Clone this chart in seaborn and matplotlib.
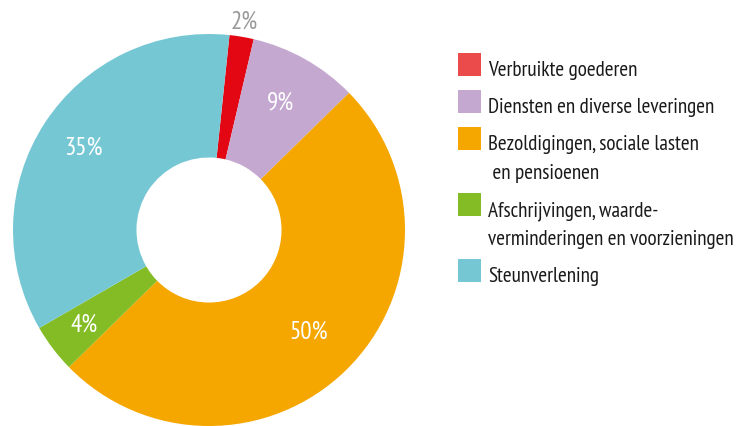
import matplotlib
matplotlib.use("Agg")
import matplotlib.pyplot as plt
import seaborn as sns
import numpy as np
from matplotlib.patches import Rectangle

# data
categories = [
    "Verbruikte goederen",
    "Diensten en diverse leveringen",
    "Bezoldigingen, sociale lasten\n en pensioenen",
    "Afschrijvingen, waarde-\nverminderingen en voorzieningen",
    "Steunverlening",
]
shares = [2, 9, 50, 4, 35]
pct_labels = ["2%", "9%", "50%", "4%", "35%"]
slice_colors = ["#E30613", "#C4A8D0", "#F5A700", "#84BC25", "#76C7D4"]
legend_colors = ["#EB4B4B", "#C4A8D0", "#F5A700", "#84BC25", "#76C7D4"]

# label placement (distance from centre, as fraction of radius)
label_r = [1.075, 0.745, 0.73, 0.80, 0.765]
label_colors = ["#9A9A9A", "white", "white", "white", "white"]

sns.set_theme(style="white")
plt.rcParams['font.family'] = ['PT Sans Narrow', 'DejaVu Sans']

W, H = 738, 426
fig = plt.figure(figsize=(W / 100, H / 100), dpi=100)
ax = fig.add_axes([13 / W, 0, 392 / W, 392 / H])

wedges, _ = ax.pie(
    shares,
    colors=slice_colors,
    startangle=84,
    counterclock=False,
    radius=1.0,
    wedgeprops=dict(width=0.63, linewidth=0),
)
ax.set_xlim(-1, 1)
ax.set_ylim(-1, 1)
ax.set_aspect("equal")
ax.axis("off")

# percentage labels
for w, lab, r, col in zip(wedges, pct_labels, label_r, label_colors):
    ang = np.deg2rad((w.theta1 + w.theta2) / 2)
    ax.text(r * np.cos(ang), r * np.sin(ang), lab, color=col,
            fontsize=18, ha="center", va="center", clip_on=False)

# legend drawn by hand so the swatch sits on the first line
line_h, gap = 29, 8
baseline = 76
for lab, col in zip(categories, legend_colors):
    fig.patches.append(Rectangle((458 / W, 1 - baseline / H), 23 / W, 23 / H,
                                 transform=fig.transFigure, color=col, lw=0))
    lines = lab.split("\n")
    for i, ln in enumerate(lines):
        fig.text(488 / W, 1 - (baseline + i * line_h) / H, ln,
                 fontsize=15.2, color="#1a1a1a", ha="left", va="baseline")
    baseline += line_h * len(lines) + gap

fig.savefig("out.png", dpi=100)
